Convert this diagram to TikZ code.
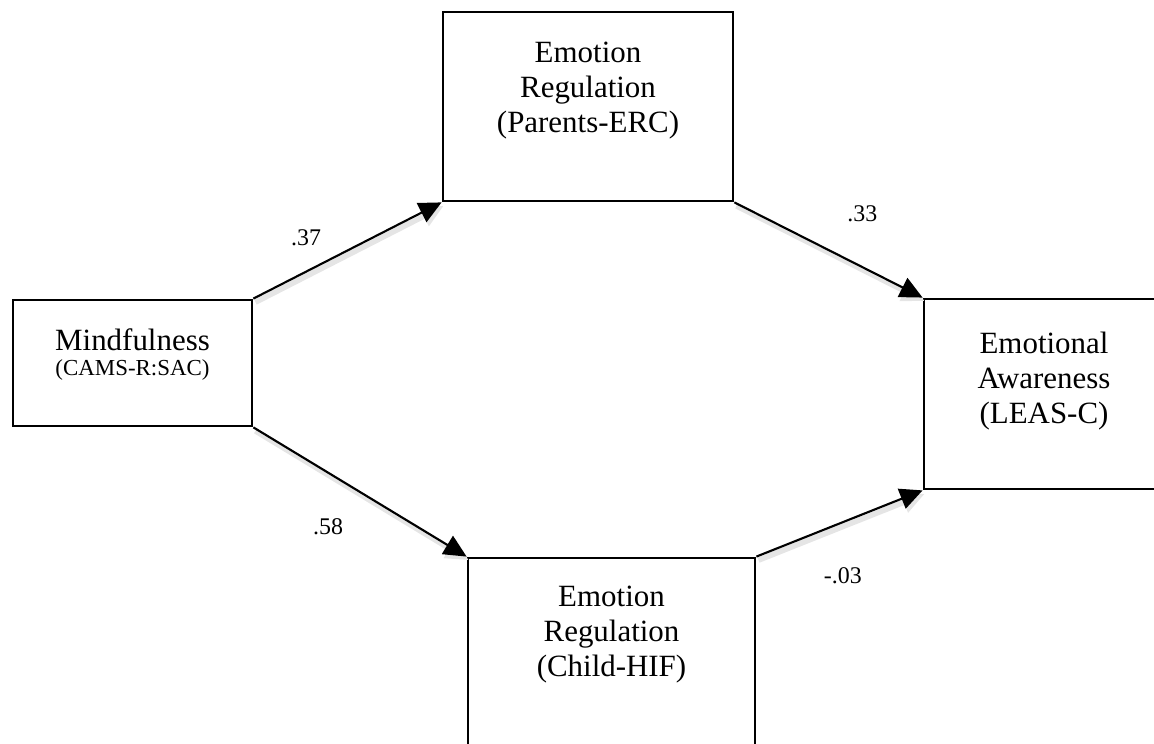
\documentclass[tikz,border=0pt]{standalone}
\usepackage{fontspec}
\setmainfont{Liberation Serif}
\usetikzlibrary{arrows.meta,positioning}

\begin{document}
\begin{tikzpicture}[
  boite/.style={draw,line width=2pt,inner sep=0pt},
  texte/.style={font=\fontsize{22}{25}\selectfont,align=center,inner sep=0pt},
  coef/.style={font=\fontsize{17}{20}\selectfont,inner sep=0pt},
  fleche/.style={-{Triangle[length=16pt,width=15pt]},line width=1.5pt,
    preaction={draw=black!10,line width=4pt,transform canvas={shift={(1.5pt,-2.5pt)}}}}]
  \useasboundingbox (0,0) rectangle (28.85,18.6);
  \clip (0,0) rectangle (28.85,18.6);
  \node[boite,minimum width=5.975cm,minimum height=3.15cm] (mind) at (3.3125,9.525) {};
  \node[boite,minimum width=7.25cm,minimum height=4.725cm] (erc) at (14.7,15.9375) {};
  \node[boite,minimum width=7.175cm,minimum height=4.725cm] (hif) at (15.2875,2.2875) {};
  \node[boite,minimum width=6cm,minimum height=4.75cm] (leas) at (26.1,8.75) {};
  \node[texte,font=\fontsize{22}{18}\selectfont,below=0.75cm of mind.north] (mindT)
    {Mindfulness\\{\fontsize{16.3}{18}\selectfont (CAMS-R:SAC)}};
  \node[texte,below=0.78cm of erc.north] (ercT) {Emotion\\Regulation\\(Parents-ERC)};
  \node[texte,below=0.73cm of hif.north] (hifT) {Emotion\\Regulation\\(Child-HIF)};
  \node[texte,below=0.85cm of leas.north] (leasT) {Emotional\\Awareness\\(LEAS-C)};
  \draw[fleche] (mind.north east) -- node[coef,pos=.28,above=0.62cm] (c1) {.37} (erc.south west);
  \draw[fleche] (erc.south east) -- node[coef,pos=.68,above=1.1cm] (c2) {.33} (leas.north west);
  \draw[fleche] (mind.south east) -- node[coef,pos=.35,below=1.12cm] (c3) {.58} (hif.north west);
  \draw[fleche] (hif.north east) -- node[coef,pos=.52,below=1.12cm] (c4) {-.03} (leas.south west);
\end{tikzpicture}
\end{document}
